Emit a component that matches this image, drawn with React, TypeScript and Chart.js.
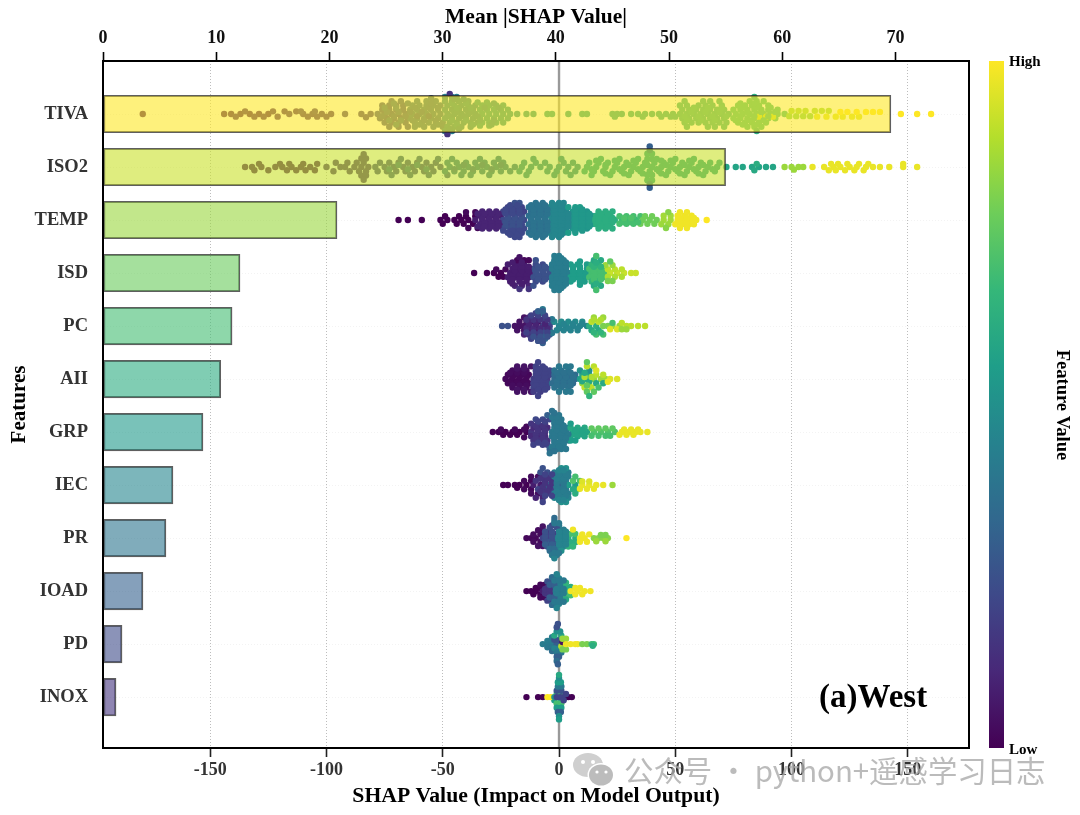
import React, { useEffect, useRef } from "react";
import { Chart, registerables } from "chart.js";

Chart.register(...registerables);

const FEATURES = ["TIVA", "ISO2", "TEMP", "ISD", "PC", "AII", "GRP", "IEC", "PR", "IOAD", "PD", "INOX"];
const MEAN_SHAP = [69.6, 55, 20.67, 12.1, 11.4, 10.4, 8.83, 6.18, 5.56, 3.53, 1.68, 1.15];
const BAR_TONE = [1, 0.923, 0.846, 0.769, 0.692, 0.615, 0.538, 0.461, 0.384, 0.307, 0.23, 0.15];
const TOP_TICKS = [0, 10, 20, 30, 40, 50, 60, 70];
const BOTTOM_TICKS = [-150, -100, -50, 0, 50, 100, 150];
const VIRIDIS = [[68,1,84],[72,40,120],[62,73,137],[49,104,142],[38,130,142],[31,158,137],[53,183,121],[109,205,89],[180,222,44],[253,231,37]];

// Each row: [vertical offset inside the swarm, feature value, ...SHAP values]
const TIVA_ROWS = [
[0,.05,-179,-144,-141,-137,-133,-129,-125],[.05,.08,-139,-131,-127,-121],[-.05,.08,-135,-123,-118,-113],[0,.1,-116,-110,-106,-102,-98],[.05,.1,-108,-104,-100],[-.05,.12,-111,-105],[0,.15,-92,-85,-81],[.06,.15,-83],
[0,.22,-78,-75,-72,-69,-66],[.08,.22,-77,-74,-71,-68,-65],[-.08,.22,-76,-73,-70,-67],[.16,.22,-75,-72,-69,-66],[-.16,.22,-76,-73,-70,-67],[.24,.22,-73,-69,-65],[-.24,.24,-72,-68],
[0,.32,-63,-60,-57,-54,-51],[.08,.32,-64,-61,-58,-55,-52],[-.08,.32,-64,-61,-58,-55,-52],[.16,.32,-62,-59,-56,-53,-50],[-.16,.32,-63,-60,-57,-54,-51],[.24,.32,-62,-58,-54,-50],[-.24,.32,-61,-57,-53],[-.3,.3,-55],
[0,.42,-48,-45,-42,-39,-36],[.08,.42,-49,-46,-43,-40,-37],[-.08,.42,-49,-46,-43,-40,-37],[.16,.42,-47,-44,-41,-38,-35],[-.16,.42,-48,-45,-42,-39,-36],[.24,.42,-48,-45,-42,-38],[-.24,.42,-49,-46,-43,-39],[.32,.42,-49,-46],[-.32,.42,-49,-46,-44],[.38,.15,-48],[-.38,.15,-47],
[0,.5,-33,-30,-27,-24,-21,-18],[.08,.5,-34,-31,-28,-25,-22],[-.08,.5,-34,-31,-28,-25,-22],[.16,.5,-33,-30,-27,-24],[-.16,.5,-33,-30,-27,-24],[.22,.5,-34,-30],[-.22,.5,-35,-31],[0,.52,-14,-11],
[0,.55,-5,-3,4,10,12,23,25,27],[.05,.55,24],[0,.58,31,34,37,40,43,46,49],[.05,.58,36,44,48,50],
[0,.6,52,55,58,61,64,67,70,73],[.08,.6,53,56,59,62,65,68,71],[-.08,.6,53,56,59,62,65,68,71],[.16,.6,54,57,60,63,66,69,72],[-.16,.6,52,55,60,63,66,70],[.24,.6,55,64,67,71],[-.24,.6,54,62,65,69],
[0,.66,76,79,82,85,88,91,94,97],[.08,.66,75,78,81,84,87,90,93],[-.08,.66,75,78,81,84,87,90,94],[.16,.66,77,80,83,86,89],[-.16,.66,77,80,83,86,90],[.24,.66,81,84,87],[-.24,.66,82,85,88],[.32,.62,85],[-.32,.62,84],[.05,.9,86,89,92],
[.04,.8,99,102,105,108],[-.06,.85,100,103,106,110,113,116],[.05,.95,111,115,119,122,126,129],[-.04,1,121,124,128,132,135,138],[0,1,147,154,160],
[.04,.25,-76,-71,-66,-61,-56],[-.04,.28,-74,-69,-64,-59],[.12,.3,-73,-68,-63,-58,-53],[-.12,.3,-75,-70,-62,-56,-52],[.2,.32,-70,-60,-52],[-.2,.3,-71,-65,-55],
[.04,.42,-47,-41,-35],[-.04,.42,-44,-38],[.12,.45,-46,-40,-34,-28],[-.12,.45,-44,-38,-32,-26],[.2,.45,-44,-37,-29],[-.2,.45,-46,-40,-28],[.28,.4,-47,-43],[-.28,.4,-45,-41],
[.04,.62,54,60,66,72],[-.04,.62,57,63,69],[.12,.62,55,61,67],[-.12,.62,58,64,70],[.04,.66,78,84,90],[-.04,.66,81,87,93],[.12,.66,76,82,88],[-.12,.66,79,85,91],[.2,.66,79,85],[-.2,.66,78,84],
];
const ISO2_ROWS = [
[0,.05,-135,-132,-128,-122,-119,-115,-111,-107],[.06,.05,-131,-125,-117,-113,-109,-105],[-.06,.05,-129,-120,-116,-110,-104],
[0,.12,-100,-94,-92,-88,-85,-82],[.08,.12,-97,-90,-86,-83],[-.08,.12,-96,-91,-87,-84],[.16,.12,-85,-83],[-.16,.12,-85,-83],[.24,.12,-84],[-.24,.12,-84],
[0,.2,-79,-75,-71,-67,-63,-59,-55,-51],[.08,.2,-78,-74,-70,-66,-62,-58,-54],[-.08,.2,-77,-73,-69,-65,-61,-57,-53],[.15,.25,-72,-64,-56,-48],[-.15,.25,-68,-60,-52],
[0,.35,-47,-43,-39,-35,-31,-27,-23,-19],[.08,.35,-49,-45,-41,-37,-33,-29,-25,-21],[-.08,.35,-48,-44,-40,-36,-32,-28,-24],[.15,.35,-42,-38,-30],[-.15,.35,-46,-34,-26],
[0,.45,-16,-12,-8,-4,0,4,8],[.08,.45,-17,-13,-5,-1,3,7],[-.08,.45,-15,-10,-6,2,6],[.15,.45,-14,-2,5],[-.15,.45,-11,1],
[0,.55,12,16,20,24,28,32,36,40,44,48,52,56,60,64,68],[.08,.55,11,15,19,23,27,31,35,39,43,47,51,55,59,63,67],[-.08,.55,13,17,21,25,29,33,37,41,45,49,53,57,61,65,69],[.15,.55,14,22,30,38,40,46,54,62],[-.15,.55,18,26,34,38,40,42,50,58],[.25,.55,38,40],[-.25,.55,38,40],[.32,.4,39],[-.32,.4,39],[.39,.3,39],[-.39,.3,39],
[0,.58,72,76,79,83,86,89,92],[.06,.6,84],[-.06,.62,85],[0,.85,97,100,103,105],[.05,.85,101],[0,.97,109,114,118,121,125,128,132,135,138,142,148,154],[.06,.97,116,119,123,127,131],[-.06,.97,117,120,124,129,133,148],
[.04,.3,-73,-65,-57,-45,-37,-29],[-.04,.3,-69,-61,-41,-33,-25],[.04,.55,14,26,34,42,50,58,66],[-.04,.55,20,30,38,46,54,62],[.12,.55,20,28,36,44,52,60],[-.12,.55,16,24,32,44,48,56],
];
const TEMP_ROWS = [
[0,0,-69,-65,-59,-51,-48,-45,-42,-39],[.07,0,-50,-44,-41,-37],[-.07,0,-49,-43,-40,-36],[.15,.02,-39,-35],[-.15,.02,-40,-36],
[0,.08,-36,-33,-30,-27],[.08,.1,-34,-31,-28,-25],[-.08,.08,-34,-31,-28,-25],[.16,.1,-33,-30,-27],[-.16,.1,-33,-30,-27],
[0,.22,-24,-21,-18,-15],[.08,.22,-22,-19,-16],[-.08,.24,-22,-19,-16],[.16,.22,-24,-21,-18,-15],[-.16,.2,-24,-21,-18,-15],[.24,.22,-22,-19,-16],[-.24,.2,-22,-19,-16],[.32,.22,-19,-17],[-.32,.25,-19,-17],
[0,.36,-12,-9,-6],[.08,.36,-13,-10,-7],[-.08,.36,-13,-10,-7],[.16,.36,-12,-9,-6],[-.16,.36,-12,-9,-6],[.24,.36,-13,-10,-7],[-.24,.38,-13,-10,-7],[.32,.38,-10,-7],[-.32,.38,-10,-7],
[0,.46,-3,0,3],[.08,.46,-4,-1,2],[-.08,.46,-4,-1,2],[.16,.46,-3,0,3],[-.16,.46,-3,0,3],[.24,.46,-4,-1,2],[-.24,.46,-4,-1,2],[.32,.46,-3,0],[-.32,.46,-3,0,2],
[0,.52,6,9,12],[.08,.52,5,8,11,14],[-.08,.52,5,8,11,14],[.16,.52,6,9,12],[-.16,.52,6,9,12],[.24,.55,4,7],[-.24,.55,4,7,9],
[0,.62,15,18,21,24],[.08,.62,16,19,22],[-.08,.62,16,19,22],[.16,.62,17,20,23],[-.16,.62,17,20,23],
[0,.68,27,30,33],[.07,.7,26,29,32],[-.07,.7,26,29,32,35],[0,.78,36,39,42],[.07,.78,35,38,41],[-.07,.78,37,40],
[0,.86,45,48],[.08,.85,44,47],[-.08,.86,45,48],[.15,.82,46],[-.15,.82,47],
[0,.98,51,54,57,59],[.08,.98,50,53,56,58],[-.08,.98,51,54,57],[.15,.98,52,55],[-.15,.98,52,55],[0,1,63.5],
[.04,.1,-32,-29,-26],[-.04,.1,-33,-30,-27],[.12,.1,-35,-32,-29,-26],[-.12,.1,-35,-32,-29,-26],
[.04,.25,-23,-20,-17],[-.04,.25,-22,-19,-16],[.12,.25,-23,-20,-17],[-.12,.22,-23,-20,-17],[.2,.22,-24,-20,-17],[-.2,.22,-23,-20,-17],[.28,.22,-21,-18],[-.28,.22,-21,-18],
[.04,.38,-11,-8,-5],[-.04,.38,-12,-9,-6],[.12,.38,-11,-8,-5],[-.12,.38,-11,-8,-5],[.2,.38,-11,-8,-5],[-.2,.38,-11,-8,-5],[.28,.38,-12,-9,-6],[-.28,.38,-12,-9,-6],
[.04,.46,-2,1,4],[-.04,.46,-2,1,4],[.12,.46,-2,1,4],[-.12,.46,-2,1,4],[.2,.46,-2,1],[-.2,.46,-2,1],[.28,.46,-2,1],[-.28,.46,-2,1],
[.04,.53,7,10,13],[-.04,.53,7,10,13],[.12,.53,7,10,13],[-.12,.53,7,10,13],[.2,.53,7,10],[-.2,.53,7,10],
[.04,.62,17,20,23],[-.04,.62,17,20,23],[.12,.62,18,21],[-.12,.62,18,21],[.04,.7,28,31,34],[-.04,.72,28,31],[.04,.98,52,55,58],[-.04,.98,52,55,58],
];
const ISD_ROWS = [
[0,0,-36.5,-31,-28,-25],[.07,0,-26,-24],[-.07,.02,-27,-23],[0,.08,-21,-18,-15,-12],[.08,.08,-22,-19,-16,-13],[-.08,.08,-20,-17,-14],[.16,.08,-21,-17,-14],[-.16,.08,-22,-18,-15],[.24,.1,-19,-16,-13],[-.24,.02,-18,-15,-13],[.3,.15,-17,-13],[-.3,.05,-17],
[0,.25,-10,-7,-4],[.08,.25,-11,-8,-5],[-.08,.25,-11,-8,-5],[.16,.22,-10,-7],[-.16,.22,-10,-7],[.24,.25,-11],[-.24,.25,-10],
[0,.42,-2,1,4],[.08,.42,-3,0,3],[-.08,.42,-3,0,3],[.16,.42,-3,-1,2],[-.16,.42,-3,-1,2],[.24,.42,-3,0,2],[-.24,.42,-2,0,2],[.32,.42,-2,0],[-.32,.42,-2,0],
[0,.55,7,10,12],[.08,.55,5,8,11],[-.08,.55,6,9,12],[.16,.55,5,9,11],[-.16,.55,5,8,12],[.22,.55,9],[-.22,.55,9],
[0,.7,14,17,20],[.08,.7,13,16,19],[-.08,.7,13,16,19],[.16,.65,14,17],[-.16,.65,14,17],[.24,.6,15,18],[-.24,.6,15,18],[.32,.7,16],[-.32,.7,16],
[0,.92,22,25,28,31,33],[.07,.88,21,24,27],[-.07,.9,21,24,27],[.15,.8,21,23],[-.15,.85,20,23],[-.22,.75,22],
[.04,.08,-20,-17,-14],[-.04,.08,-19,-16,-13],[.12,.08,-20,-17,-14],[-.12,.08,-19,-16,-13],[.2,.08,-20,-16],[-.2,.08,-20,-16],[.04,.25,-9,-6],[-.04,.25,-10,-7],[.12,.25,-9,-6],[-.12,.25,-9,-6],[.04,.42,-1,2],[-.04,.42,-1,2],[.12,.42,-1,1,3],[-.12,.42,-1,1,3],[.2,.42,-2,0,3],[-.2,.42,-2,0,3],[.28,.42,-1,1],[-.28,.42,-1,1],[.04,.55,6,9],[-.04,.55,6,9],[.12,.55,6,9],[-.12,.55,6,9],[.04,.7,15,18],[-.04,.7,15,18],[.12,.7,15,18],[-.12,.65,15,18],[.2,.62,16],[-.2,.62,16],
];
const PC_ROWS = [
[0,.25,-24.5,-22],[0,.05,-19,-17,-15],[.08,.05,-18,-15],[-.08,.05,-17,-14],[.16,.1,-15],[-.16,.05,-15],
[0,.05,-13,-10],[0,.2,-7,-4],[.08,.08,-13,-10],[.08,.25,-7,-4],[-.08,.05,-12,-9],[-.08,.22,-6,-3],[.16,.15,-13,-10],[.16,.3,-7,-4],[-.16,.1,-13,-9],[-.16,.25,-6],[.24,.2,-12,-9],[.24,.35,-6],[-.24,.2,-10],[-.24,.4,-7],[.32,.3,-7],[-.32,.4,-7],
[0,.45,0,3,6,9,12],[.08,.45,-1,2,5,8],[-.08,.48,-2,1,4,7,10],[.13,.4,-3],[-.13,.4,-3],
[0,.62,13,16],[.08,.6,14,17],[-.08,.9,14,17],[.16,.7,16,19],[-.16,.85,15,19],[0,.8,19,21],
[0,.85,23,26],[.06,.95,22,25],[-.06,.7,23],[0,.9,29,31,34,37],[.06,.85,27,29],[-.06,.9,27],
[.04,.12,-14,-11,-8,-5],[-.04,.1,-13,-10,-6],[.12,.2,-14,-11,-8,-5],[-.12,.15,-14,-11,-8,-5],[.2,.25,-11,-8,-5],[-.2,.2,-12,-9,-6],[.28,.25,-9,-7],[-.28,.3,-9,-7],[.04,.45,0,4,8],[-.04,.45,2,6,10],[.12,.65,15,18],[-.12,.88,15,18],
];
const AII_ROWS = [
[0,.02,-23,-20,-17,-14],[.08,.02,-22,-19,-16,-13],[-.08,.02,-22,-19,-16,-13],[.16,.03,-20,-17,-14],[-.16,.03,-20,-17,-14],[.24,.05,-18,-15,-12],[-.24,.05,-18,-15,-12],
[0,.18,-11,-8,-5],[.08,.2,-11,-8,-5],[-.08,.2,-10,-7,-4],[.16,.2,-11,-8,-5],[-.16,.2,-10,-7,-4],[.24,.18,-11,-8],[-.24,.2,-10,-7],[.32,.2,-9],[-.32,.2,-9],
[0,.35,-2,1,4,7],[.08,.35,-3,0,3,6],[-.08,.35,-2,1,4,7],[.16,.38,-2,1,4],[-.16,.38,-2,1,4],[.24,.4,0,3,5],[-.24,.4,0,3,5],
[0,.55,9,12],[.08,.85,10,13],[-.08,.6,10,13],[.16,.9,11,14],[-.16,.5,9,13],[.24,.75,12,15],[-.24,.9,12,15],[.32,.65,13],[-.32,.75,12],
[0,.85,15,18,20],[.08,.6,16,19],[-.08,.9,16,19],[.16,.7,17],[-.16,.95,16],[0,.95,22,25],[.05,.97,21],
[.04,.02,-21,-18,-15],[-.04,.02,-20,-17,-14],[.12,.03,-20,-17,-14],[-.12,.03,-21,-18,-15],[.2,.05,-18,-15],[-.2,.05,-18,-15],[.04,.2,-10,-7],[-.04,.2,-9,-6],[.12,.2,-10,-7],[-.12,.2,-9,-6],[.2,.2,-9,-6],[-.2,.2,-9,-6],[.04,.37,-1,2,5],[-.04,.37,0,3,6],[.12,.37,-1,2,5],[-.12,.37,-1,2,5],[.04,.6,10,13],[-.04,.88,11,14],[.12,.75,12],[-.12,.6,11],
];
const GRP_ROWS = [
[0,0,-28.5,-26,-23,-20,-17,-14],[.05,0,-24,-21,-18],[-.05,.02,-25,-19,-15],[.1,.02,-15],[-.1,.02,-14],
[0,.15,-12,-9,-6],[.08,.12,-12,-9,-6],[-.08,.12,-11,-8,-5],[.16,.15,-11,-8,-5],[-.16,.15,-12,-9,-6],[.24,.2,-11,-7,-5],[-.24,.22,-10,-7,-4],[.32,.3,-4],[-.32,.3,-5,-2],[.4,.38,-4],[-.4,.38,-3],
[0,.4,-3,0,3],[.08,.4,-3,0,3],[-.08,.42,-2,1,4],[.16,.38,-2,1,4],[-.16,.38,-2,1],[.24,.4,-1,2],[-.24,.4,-1,1],[.32,.4,-1,1,3],[-.32,.4,0],
[0,.58,6,9,12],[.08,.58,5,8,11],[-.08,.6,5,8,11],[.16,.55,5,7],[-.16,.55,5],
[0,.72,15,18,21,24],[.07,.7,14,17,20,22],[-.07,.75,14,17,20,23],[0,.97,27,30,33,35,38],[.05,.97,26,29,32],[-.05,.97,28,31,34],
[.04,.15,-10,-7],[-.04,.15,-9,-6],[.12,.15,-10,-7],[-.12,.15,-10,-7],[.2,.2,-9,-6],[-.2,.2,-9,-6],[.04,.4,-2,1,4],[-.04,.4,-1,2],[.12,.4,-2,1,3],[-.12,.4,-1,2],[.2,.4,-2,0,2],[-.2,.4,-2,0],[.28,.4,-3,0],[-.28,.4,-3,-1],[.36,.38,-2],[-.36,.38,-2],[.04,.58,7,10],[-.04,.58,7,10],
];
const IEC_ROWS = [
[0,0,-24,-22,-19,-17,-14],[.05,0,-18],[.08,.02,-15,-12],[-.08,.02,-15,-12],[0,.08,-11,-8],[.16,.03,-12,-9],[-.16,.03,-12,-9],
[.08,.2,-9,-6,-3],[-.08,.15,-10,-6,-3],[.16,.2,-7,-4],[-.16,.15,-7,-4],[.24,.1,-10,-7],[-.24,.25,-8,-5],[.32,.2,-7],[-.32,.25,-7],
[0,.32,-5,-2,1],[.08,.4,0,3],[-.08,.42,0,3],[.16,.42,-2,1,4],[-.16,.42,-2,1,4],[.24,.45,-2,2,4],[-.24,.42,-2,1,4],[.32,.5,1,3],[-.32,.5,1,3],
[0,.55,4,7],[.08,.6,6,8],[-.08,.72,6,9],[.16,.62,7],[-.16,.7,7],[0,.97,10,13,16,19],[.07,.97,9,12,15],[-.07,.95,10,13],[0,.85,23],
[.04,.15,-7,-4],[-.04,.15,-6,-3],[.12,.15,-8,-5],[-.12,.15,-8,-5],[.2,.2,-6,-3],[-.2,.2,-6,-3],[.04,.4,-1,2],[-.04,.4,-1,2],[.12,.42,-1,2],[-.12,.42,-1,2],[.2,.42,0,3],[-.2,.42,0,3],[.28,.45,0,2],[-.28,.45,0,2],
];
const PR_ROWS = [
[0,.02,-14,-12,-10],[.07,.03,-11,-8],[-.07,.03,-11,-8],[.15,.05,-9,-7],[-.15,.03,-9,-7],[-.22,.05,-7],
[0,.2,-7,-4],[.08,.3,-5,-2],[-.08,.2,-5,-2],[.16,.25,-5,-2],[-.16,.15,-4],[.24,.35,-4,-1],[-.24,.2,-3],[.32,.4,-3,-1],[-.32,.4,-2],[.38,.45,-2],[-.38,.35,-2],
[0,.45,-1,2],[.08,.45,1,3],[-.08,.45,1,3],[.16,.45,0,2],[-.16,.42,0,2],[.24,.5,1],[-.24,.42,0],
[0,.62,4,7],[.08,.62,5,7],[-.08,.7,5,7],[.16,.65,4,6],[-.16,.98,6],[0,.98,9,11],[.07,.98,9,12],[-.07,.98,10,13],[0,.82,15,17,19,21],[.06,.85,16,20],[-.06,.8,18,20],[0,1,29],
[.04,.25,-6,-3],[-.04,.25,-6,-3],[.12,.3,-6,-3],[-.12,.25,-6,-3],[.2,.35,-4,-2],[-.2,.25,-4,-1],[.28,.4,-2,0],[-.28,.4,-2,0],[.04,.45,0,3],[-.04,.45,0,3],[.12,.45,0,3],[-.12,.45,0,3],
];
const IOAD_ROWS = [
[0,0,-14,-12,-10],[.06,0,-11,-8],[-.06,0,-10,-8],[.12,.02,-8,-6],[-.12,.02,-8,-6],[0,.08,-7,-5],
[.06,.2,-5,-3],[-.06,.15,-5,-3],[.18,.2,-5,-3],[-.18,.25,-5,-3],[.26,.35,-3,-1],[-.26,.35,-3,-1],
[0,.4,-2,1],[.08,.42,-2,0,2],[-.08,.42,-2,0,2],[.16,.42,-1,1],[-.16,.42,-1,1],[.24,.45,0],[-.24,.45,0],[.32,.45,-1],[-.32,.45,-1],
[0,.6,3],[.08,.7,3,5],[-.08,.62,3,5],[.16,.6,3],[-.16,.65,3],[0,.98,5,8,11,13.5],[.06,.98,7,10],[-.06,.98,7,9],
[.04,.15,-6,-4],[-.04,.15,-6,-4],[.12,.3,-4,-2],[-.12,.3,-4,-2],[.2,.4,-2,0,2],[-.2,.4,-2,0,2],[.04,.42,-1,2],[-.04,.42,-1,2],
];
const PD_ROWS = [
[0,.42,-7,-5,-3],[.06,.4,-5,-3],[-.06,.42,-5,-3],[.13,.35,-3],[-.13,.42,-3],
[0,.3,-1,1],[.08,.45,-2,0],[-.08,.25,-2,0],[.16,.4,-1,1],[-.16,.6,-2,1],[.24,.3,-1,0],[-.24,.5,-1,.5],[.32,.35,-1],[-.32,.25,-1],[.38,.3,-.5],[-.38,.25,-.5],
[.04,.9,1,2.5],[-.04,.05,1.5],[.1,.8,1.5,3],[-.1,.85,1.5,3],[0,.98,3,5,7,8],[0,.8,10,12],[0,.68,14,15],[.03,.62,14.5],
];
const INOX_ROWS = [
[0,0,-14,-9,-7],[.06,.55,-2,1],[-.06,.7,-1,1],[.12,.7,-1,1],[-.12,.25,-1,1],[.2,.55,-1,1],[-.2,.4,-.5,1],[.28,.3,-.5,.8],[-.28,.55,-.5,.8],[.36,.5,0],[-.36,.5,0],[.42,.55,0],[-.42,.6,0],
[0,1,-5,-3.5],[0,.5,-2],[0,.2,-1,.5,2,3],[0,0,4,5.5],[.06,.2,2],[-.06,.2,3],
];
const SWARMS = [TIVA_ROWS, ISO2_ROWS, TEMP_ROWS, ISD_ROWS, PC_ROWS, AII_ROWS, GRP_ROWS, IEC_ROWS, PR_ROWS, IOAD_ROWS, PD_ROWS, INOX_ROWS];

const SERIF = '"Liberation Serif", "Times New Roman", serif';

function viridis(v: number, alpha = 1) {
  const p = Math.min(Math.max(v, 0), 1) * (VIRIDIS.length - 1);
  const i = Math.min(Math.floor(p), VIRIDIS.length - 2);
  const f = p - i;
  const c = VIRIDIS[i].map((a, k) => Math.round(a + (VIRIDIS[i + 1][k] - a) * f));
  return `rgba(${c[0]},${c[1]},${c[2]},${alpha})`;
}

function swarmPoints(rows: number[][], idx: number) {
  const data: { x: number; y: number }[] = [];
  const colors: string[] = [];
  for (const row of rows) {
    const [offset, value, ...shap] = row;
    for (const x of shap) {
      data.push({ x, y: idx + offset });
      colors.push(viridis(value));
    }
  }
  return { data, colors };
}

const decorPlugin = {
  id: "decor",
  afterDraw(chart: any) {
    const { ctx, chartArea: a } = chart;
    ctx.save();
    ctx.strokeStyle = "#000";
    ctx.lineWidth = 2;
    ctx.strokeRect(a.left, a.top, a.right - a.left, a.bottom - a.top);

    // colour bar
    const g = ctx.createLinearGradient(0, a.bottom, 0, a.top);
    VIRIDIS.forEach((_, i) => g.addColorStop(i / (VIRIDIS.length - 1), viridis(i / (VIRIDIS.length - 1))));
    ctx.fillStyle = g;
    ctx.fillRect(989, a.top, 15, a.bottom - a.top);
    ctx.fillStyle = "#000";
    ctx.font = `bold 15px ${SERIF}`;
    ctx.textAlign = "left";
    ctx.textBaseline = "middle";
    ctx.fillText("High", 1009, 62);
    ctx.fillText("Low", 1009, 750);
    ctx.save();
    ctx.translate(1062, 405);
    ctx.rotate(Math.PI / 2);
    ctx.textAlign = "center";
    ctx.font = `bold 18.5px ${SERIF}`;
    ctx.fillText("Feature Value", 0, 0);
    ctx.restore();

    // panel label
    ctx.font = `bold 33px ${SERIF}`;
    ctx.textAlign = "left";
    ctx.fillText("(a)West", 819, 698);

    // source mark
    const bubble = (x: number, y: number, rx: number, ry: number, fill: string) => {
      ctx.fillStyle = fill;
      ctx.beginPath();
      ctx.ellipse(x, y, rx, ry, 0, 0, Math.PI * 2);
      ctx.fill();
    };
    bubble(588, 765, 15, 12, "#cfcfcf");
    bubble(583, 762, 2, 2, "#fff");
    bubble(593, 762, 2, 2, "#fff");
    bubble(601, 775, 13.5, 12, "#fff");
    bubble(601, 775, 12, 10.5, "#bcbcbc");
    bubble(597, 772, 1.6, 1.6, "#fff");
    bubble(606, 772, 1.6, 1.6, "#fff");
    ctx.fillStyle = "rgba(170,170,170,0.8)";
    ctx.font = `29.4px "Noto Sans CJK SC"`;
    ctx.textBaseline = "alphabetic";
    ctx.fillText("公众号 · python+遥感学习日志", 624, 782);
    ctx.restore();
  },
};

export default function App() {
  const ref = useRef<HTMLCanvasElement>(null);
  useEffect(() => {
    const swarms = SWARMS.map((rows, i) => {
      const { data, colors } = swarmPoints(rows, i);
      return {
        type: "scatter",
        data,
        xAxisID: "x",
        yAxisID: "y",
        order: 1,
        pointRadius: 3.2,
        pointBorderWidth: 0,
        pointBackgroundColor: colors,
        showLine: false,
      };
    });
    const chart = new Chart(ref.current as HTMLCanvasElement, {
      type: "bar",
      data: {
        datasets: [
          {
            type: "bar",
            data: MEAN_SHAP.map((x, y) => ({ x, y })),
            xAxisID: "xTop",
            yAxisID: "y",
            order: 0,
            barThickness: 37.5,
            backgroundColor: BAR_TONE.map((t) => viridis(t, 0.6)),
            borderColor: "rgba(40,40,40,0.75)",
            borderWidth: 1.4,
            borderSkipped: false,
          },
          ...swarms,
          {
            type: "line",
            data: [{ x: 0, y: -1 }, { x: 0, y: 11.96 }],
            xAxisID: "x",
            yAxisID: "y",
            order: 2,
            borderColor: "#999",
            borderWidth: 2.4,
            pointRadius: 0,
          },
        ],
      } as any,
      options: {
        indexAxis: "y",
        animation: false,
        responsive: false,
        layout: { padding: { right: 111 } },
        plugins: { legend: { display: false }, tooltip: { enabled: false } },
        scales: {
          x: {
            type: "linear",
            axis: "x",
            position: "bottom",
            offset: false,
            min: -196.1,
            max: 176.3,
            afterBuildTicks: (s: any) => { s.ticks = BOTTOM_TICKS.map((value) => ({ value })); },
            afterFit: (s: any) => { s.height = 67; },
            ticks: { color: "#333", padding: 3, maxRotation: 0, font: { family: SERIF, size: 18, weight: "bold" } },
            grid: { offset: false, color: "#bdbdbd", lineWidth: 1, tickColor: "#222", tickLength: 9, tickWidth: 1.6 },
            border: { color: "#000", width: 2, dash: [1, 2] },
            title: { display: true, text: "SHAP Value (Impact on Model Output)", color: "#000", padding: { top: 0, bottom: 6 }, font: { family: SERIF, size: 21.7, weight: "bold" } },
          },
          xTop: {
            type: "linear",
            axis: "x",
            position: "top",
            offset: false,
            min: 0,
            max: 76.5,
            afterBuildTicks: (s: any) => { s.ticks = TOP_TICKS.map((value) => ({ value })); },
            afterFit: (s: any) => { s.height = 61; },
            ticks: { color: "#111", padding: 3, maxRotation: 0, font: { family: SERIF, size: 18, weight: "bold" } },
            grid: { offset: false, drawOnChartArea: false, color: "#000", tickLength: 9, tickWidth: 1.6 },
            border: { color: "#000", width: 2 },
            title: { display: true, text: "Mean |SHAP Value|", color: "#000", padding: { top: 5, bottom: 0 }, font: { family: SERIF, size: 21.5, weight: "bold" } },
          },
          y: {
            type: "linear",
            axis: "y",
            position: "left",
            offset: false,
            reverse: true,
            min: -1,
            max: 11.96,
            afterBuildTicks: (s: any) => { s.ticks = FEATURES.map((_, value) => ({ value })); },
            afterFit: (s: any) => { s.width = 103; },
            ticks: { color: "#333", padding: 15, callback: (v: any) => FEATURES[v], font: { family: SERIF, size: 18.5, weight: "bold" } },
            grid: { offset: false, color: "rgba(190,190,190,0.18)", drawTicks: false },
            border: { color: "#000", width: 2, dash: [1, 2] },
            title: { display: true, text: "Features", color: "#000", padding: { top: 7, bottom: 0 }, font: { family: SERIF, size: 21, weight: "bold" } },
          },
        },
      } as any,
      plugins: [decorPlugin],
    } as any);
    return () => chart.destroy();
  }, []);
  return (
    <div style={{ position: "absolute", left: 0, top: 0, width: 1080, height: 815, background: "#fff" }}>
      <canvas ref={ref} width={1080} height={815} style={{ display: "block" }} />
    </div>
  );
}
